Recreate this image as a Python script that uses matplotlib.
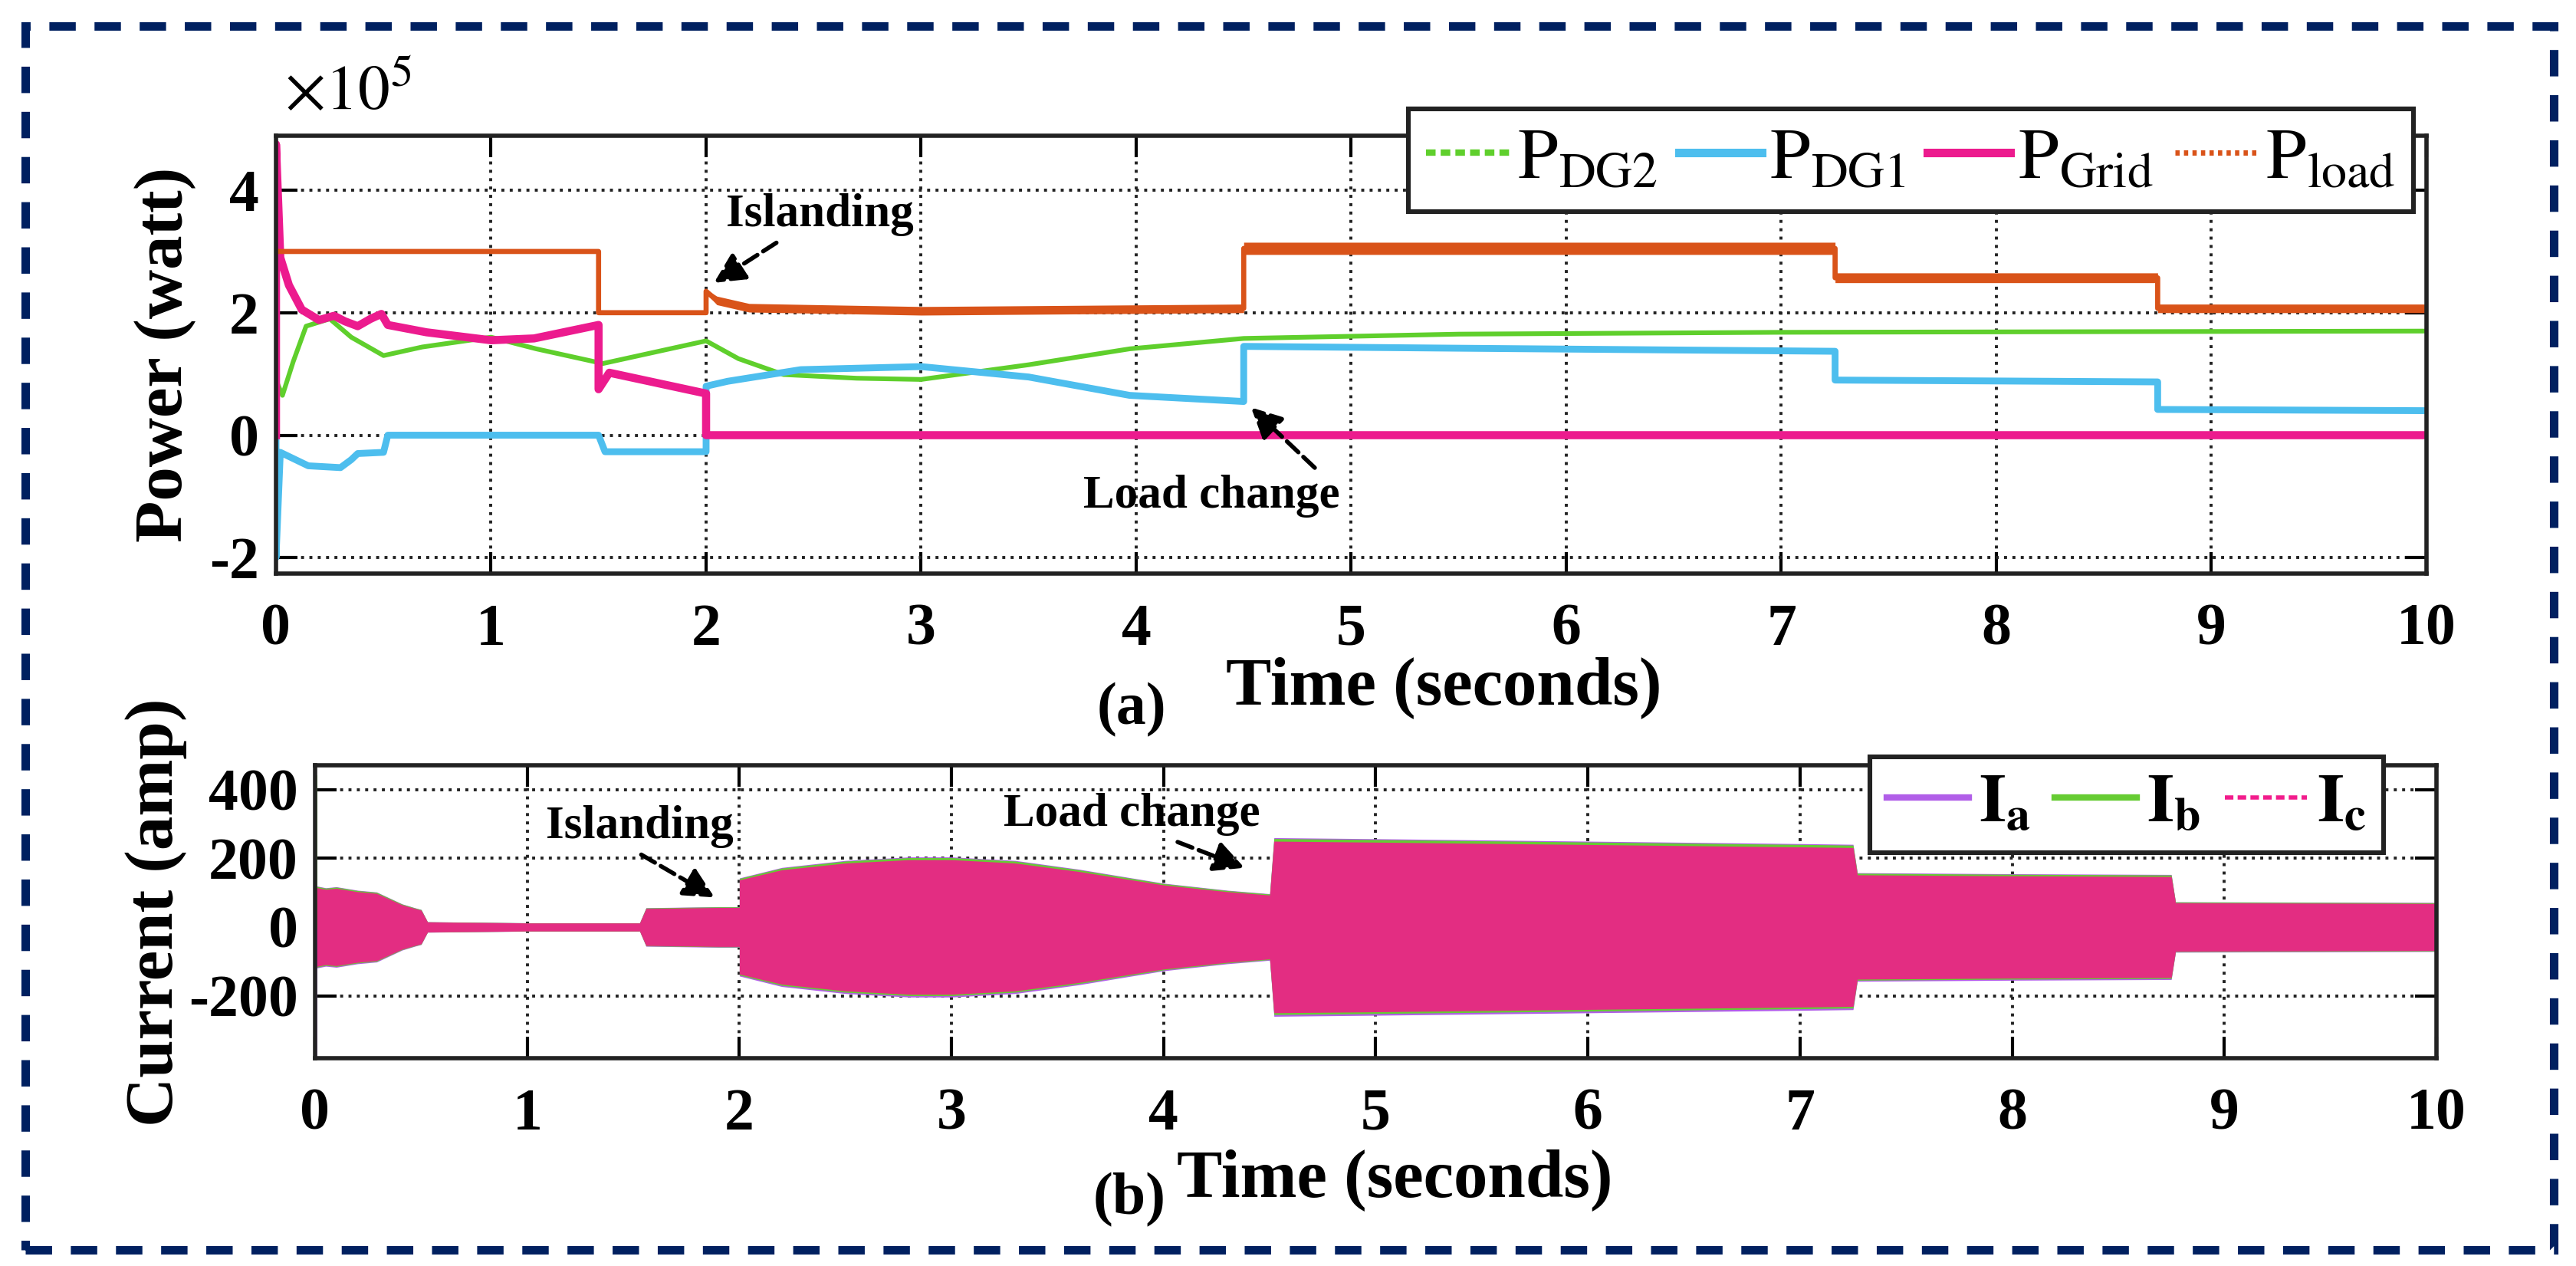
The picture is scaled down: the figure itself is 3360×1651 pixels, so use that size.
import matplotlib
matplotlib.use('Agg')
import numpy as np
from matplotlib import pyplot as plt
from matplotlib.lines import Line2D
from matplotlib.patches import Rectangle

plt.rcParams['font.family'] = ['Liberation Serif', 'DejaVu Serif']
plt.rcParams['mathtext.fontset'] = 'stix'
plt.rcParams['axes.unicode_minus'] = False

# (a) power, values in units of 1e5 W
t_load = [0, 1.5, 1.5, 2.0, 2.0, 2.05, 2.2, 3.0, 4.5, 4.5, 7.25, 7.25, 8.75, 8.75, 10]
p_load = [3.0, 3.0, 2.0, 2.0, 2.35, 2.2, 2.08, 2.03, 2.07, 3.05, 3.05, 2.57, 2.57, 2.07, 2.07]
p_load_noise = [0, 0, 0, 0, 0.03, 0.07, 0.07, 0.07, 0.07, 0.1, 0.1, 0.08, 0.08, 0.07, 0.07]

t_grid = [0, 0, 0.02, 0.06, 0.12, 0.2, 0.27, 0.32, 0.38, 0.44, 0.49, 0.52, 0.7, 1.0, 1.2, 1.5, 1.5, 1.55,
          2.0, 2.0, 10]
p_grid = [0, 4.75, 2.9, 2.45, 2.05, 1.88, 1.95, 1.86, 1.78, 1.9, 1.98, 1.8, 1.68, 1.55, 1.58, 1.8, 0.75, 1.02,
          0.68, 0, 0]

t_dg2 = [0, 0.03, 0.08, 0.14, 0.25, 0.35, 0.5, 0.68, 1.0, 1.21, 1.52, 2.0, 2.15, 2.36, 2.7, 3.0, 3.5, 3.97,
         4.5, 5.5, 7.0, 10]
p_dg2 = [0.9, 0.65, 1.2, 1.78, 1.9, 1.6, 1.3, 1.44, 1.6, 1.41, 1.17, 1.54, 1.25, 0.99, 0.93, 0.91, 1.15, 1.41,
         1.58, 1.65, 1.68, 1.7]

t_dg1 = [0, 0, 0.02, 0.15, 0.3, 0.35, 0.38, 0.5, 0.52, 1.5, 1.53, 2.0, 2.0, 2.1, 2.44, 3.0, 3.5, 3.97, 4.5, 4.5,
         5.5, 7.25, 7.25, 8.75, 8.75, 10]
p_dg1 = [0, -2.0, -0.28, -0.5, -0.53, -0.4, -0.3, -0.28, 0, 0, -0.27, -0.27, 0.8, 0.88, 1.07, 1.12, 0.95, 0.65,
         0.55, 1.45, 1.42, 1.37, 0.9, 0.87, 0.42, 0.4]

# (b) current, envelope of the three phase currents (amp)
t_env = [0, 0.05, 0.1, 0.2, 0.29, 0.41, 0.47, 0.5, 0.53, 1.0, 1.53, 1.56, 1.9, 2.0, 2.0, 2.2, 2.5, 2.8, 3.0,
         3.3, 3.6, 4.0, 4.3, 4.5, 4.52, 5.0, 6.0, 7.0, 7.25, 7.27, 8.0, 8.75, 8.77, 10]
i_env = [118, 112, 115, 105, 100, 66, 55, 50, 15, 12, 12, 55, 58, 58, 140, 170, 190, 200, 200, 190, 165, 125,
         105, 95, 255, 252, 245, 238, 236, 155, 152, 150, 72, 70]
t_spike = [0, 0]
ia_spike = [0, -378]
ib_spike = [0, 435]

c_dg2 = '#5fcf2c'
c_dg1 = '#4dbeee'
c_grid = '#ec1b8e'
c_load = '#d95319'
c_ia = '#b15ee8'
c_ib = '#66cc33'
c_ic = '#f21c8c'


def style_axes(ax):
    ax.set_xlim(0, 10)
    ax.set_xticks(range(0, 11))
    ax.tick_params(direction='in', length=10, width=1.5, top=True, right=True, labelsize=28)
    ax.tick_params(axis='x', pad=14)
    ax.tick_params(axis='y', pad=8)
    for lbl in ax.get_xticklabels() + ax.get_yticklabels():
        lbl.set_fontweight('bold')
    ax.grid(True, linestyle=(0, (1, 1.8)), color='#222222', linewidth=1.4)
    ax.set_axisbelow(True)
    for s in ax.spines.values():
        s.set_linewidth(2)
        s.set_color('#222222')


fig = plt.figure(figsize=(16.8, 8.255), dpi=200)

ax1 = fig.add_axes([0.10714, 0.54694, 0.83482, 0.34585])
ax1.plot(t_dg2, p_dg2, color=c_dg2, lw=2.2)
ax1.plot(t_dg1, p_dg1, color=c_dg1, lw=3.2)
ax1.plot(t_grid, p_grid, color=c_grid, lw=3.8)
lo = np.array(p_load) - np.array(p_load_noise)
hi = np.array(p_load) + np.array(p_load_noise)
ax1.fill_between(t_load, lo, hi, color=c_load, lw=0)
ax1.plot(t_load, p_load, color=c_load, lw=2.4)
ax1.set_ylim(-2.26, 4.89)
ax1.set_yticks([-2, 0, 2, 4])
style_axes(ax1)
ax1.text(0.004, 1.03, r'$\times10^{5}$', transform=ax1.transAxes, fontsize=30, ha='left', va='bottom')

arrow = dict(arrowstyle='-|>', linestyle='--', color='k', lw=2, mutation_scale=30)
ax1.annotate('Islanding', xy=(2.02, 2.45), xytext=(2.53, 3.6), fontsize=22, fontweight='bold',
             ha='center', va='center', arrowprops=arrow)
ax1.annotate('Load change', xy=(4.52, 0.5), xytext=(4.35, -1.0), fontsize=22, fontweight='bold',
             ha='center', va='center', arrowprops=dict(arrow, relpos=(0.95, 0.9)))

h1 = [Line2D([], [], color=c_dg2, lw=3, ls=(0, (1.5, 0.8))),
      Line2D([], [], color=c_dg1, lw=4),
      Line2D([], [], color=c_grid, lw=4),
      Line2D([], [], color=c_load, lw=2.5, ls=(0, (0.8, 0.8)))]
l1 = [r'$\mathrm{P}_{\mathrm{DG2}}$', r'$\mathrm{P}_{\mathrm{DG1}}$', r'$\mathrm{P}_{\mathrm{Grid}}$',
      r'$\mathrm{P}_{\mathrm{load}}$']
leg1 = ax1.legend(h1, l1, ncol=4, loc='upper right', bbox_to_anchor=(0.994, 1.061), fontsize=34,
                  frameon=True, fancybox=False, edgecolor='#222222', framealpha=1, handlelength=1.15,
                  handletextpad=0.1, columnspacing=0.3, borderpad=0.25, borderaxespad=0)
leg1.get_frame().set_linewidth(2.2)

ax2 = fig.add_axes([0.12232, 0.16414, 0.82351, 0.23137])
env = np.array(i_env)
ax2.fill_between(t_env, -env * 1.02, env * 1.02, color=c_ia, lw=0)
ax2.fill_between(t_env, -env, env * 1.01, color=c_ib, lw=0)
ax2.fill_between(t_env, -env * 0.98, env * 0.98, color=c_ic, lw=0, alpha=0.9)
ax2.plot(t_spike, ia_spike, color=c_ia, lw=2)
ax2.plot(t_spike, ib_spike, color=c_ib, lw=2)
ax2.set_ylim(-382, 471)
ax2.set_yticks([-200, 0, 200, 400])
style_axes(ax2)

ax2.annotate('Islanding', xy=(1.90, 80), xytext=(1.53, 292), fontsize=22, fontweight='bold',
             ha='center', va='center', arrowprops=dict(arrow, relpos=(0.45, 0.0)))
ax2.annotate('Load change', xy=(4.40, 168), xytext=(3.85, 327), fontsize=22, fontweight='bold',
             ha='center', va='center', arrowprops=dict(arrow, relpos=(0.62, 0.0)))

h2 = [Line2D([], [], color=c_ia, lw=3),
      Line2D([], [], color=c_ib, lw=3),
      Line2D([], [], color=c_ic, lw=2, ls=(0, (2, 1)))]
l2 = [r'$\mathbf{I}_{\mathbf{a}}$', r'$\mathbf{I}_{\mathbf{b}}$', r'$\mathbf{I}_{\mathbf{c}}$']
leg2 = ax2.legend(h2, l2, ncol=3, loc='upper right', bbox_to_anchor=(0.975, 1.03), fontsize=32,
                  frameon=True, fancybox=False, edgecolor='#222222', framealpha=1, handlelength=1.2,
                  handletextpad=0.15, columnspacing=0.35, borderpad=0.25, borderaxespad=0)
leg2.get_frame().set_linewidth(2.2)

# axis labels
fig.text(216 / 3360, 1 - 462 / 1651, 'Power (watt)', rotation=90, fontsize=32, fontweight='bold',
         ha='center', va='center')
fig.text(204 / 3360, 1 - 1190 / 1651, 'Current (amp)', rotation=90, fontsize=32, fontweight='bold',
         ha='center', va='center')
fig.text(0.5604, 0.4570, 'Time (seconds)', fontsize=32, fontweight='bold', ha='center', va='center')
fig.text(0.4393, 0.4395, '(a)', fontsize=28, fontweight='bold', ha='center', va='center')
fig.text(0.5414, 0.0680, 'Time (seconds)', fontsize=32, fontweight='bold', ha='center', va='center')
fig.text(0.4384, 0.0520, '(b)', fontsize=28, fontweight='bold', ha='center', va='center')

# dashed frame around the figure
frame = Rectangle((33 / 3360, 1 - 1630 / 1651), (3331 - 33) / 3360, (1630 - 34) / 1651,
                  transform=fig.transFigure, fill=False, edgecolor='#002060', lw=4,
                  linestyle=(0, (3.1, 2.2)))
fig.patches.append(frame)

fig.savefig('out.png', dpi=200)
